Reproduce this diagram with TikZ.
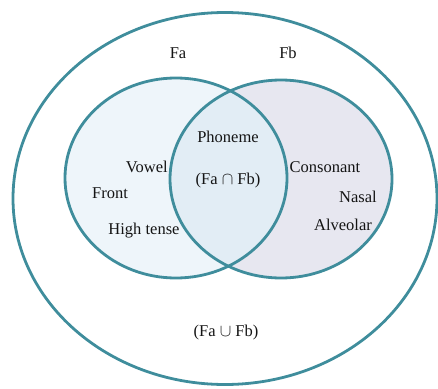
\documentclass[tikz,border=0pt]{standalone}
\usepackage{fontspec}
\setmainfont{Liberation Serif}
\usetikzlibrary{shapes.geometric}
\definecolor{ring}{HTML}{3F8D9C}
\definecolor{fillA}{HTML}{EEF5FA}
\definecolor{fillB}{HTML}{E7E7F0}
\definecolor{fillAB}{HTML}{E2EDF5}
\tikzset{
  setline/.style={draw=ring, line width=2.8pt},
  lbl/.style={font=\fontsize{16.5}{18}\selectfont, inner sep=0pt, text=black!92},
}
\begin{document}
\begin{tikzpicture}[x=1pt,y=-1pt]
\useasboundingbox (0,0) rectangle (438,388);
% fills
\fill[fillA] (176,178) ellipse [x radius=111pt, y radius=100pt];
\fill[fillB] (281,179) ellipse [x radius=111pt, y radius=100pt];
\begin{scope}
  \clip (176,178) ellipse [x radius=111pt, y radius=100pt];
  \fill[fillAB] (281,179) ellipse [x radius=111pt, y radius=100pt];
\end{scope}
% outlines as named nodes
\node[ellipse, setline, inner sep=0pt, minimum width=424pt, minimum height=372pt] (U) at (225,198.5) {};
\node[ellipse, setline, inner sep=0pt, minimum width=222pt, minimum height=200pt] (A) at (176,178) {};
\node[ellipse, setline, inner sep=0pt, minimum width=222pt, minimum height=198pt] (B) at (281,179) {};
% labels
\node[lbl] (fa) at (178,53) {Fa};
\node[lbl] (fb) at (288,53) {Fb};
\node[lbl] (ph) at (228,137) {Phoneme};
\node[lbl] (cap) at (228,181) {(Fa $\cap$ Fb)};
\node[lbl, anchor=east] (vowel) at (168,167) {Vowel};
\node[lbl] (front) at (110,193) {Front};
\node[lbl] (high) at (144,231) {High tense};
\node[lbl] (cons) at (325,167) {Consonant};
\node[lbl] (nasal) at (358,197) {Nasal};
\node[lbl] (alv) at (343,225) {Alveolar};
\node[lbl] (cup) at (226,333) {(Fa $\cup$ Fb)};
\end{tikzpicture}
\end{document}
